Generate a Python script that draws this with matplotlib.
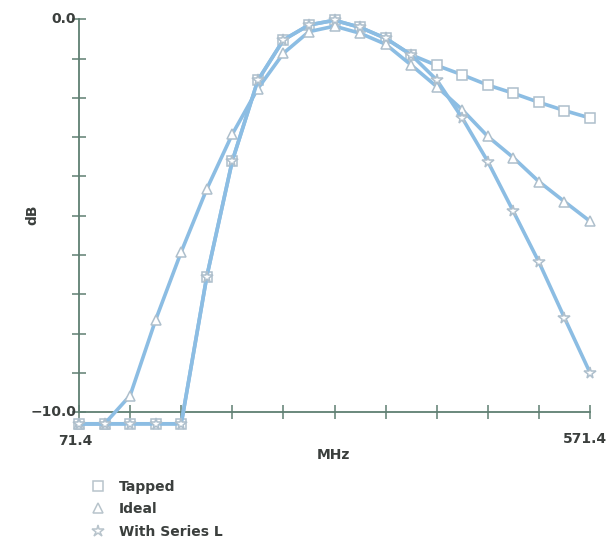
import numpy as np
import matplotlib
matplotlib.use("Agg")
import matplotlib.pyplot as plt
from matplotlib.lines import Line2D

plt.rcParams['font.family'] = ['Liberation Sans Narrow', 'DejaVu Sans']

# ── Data ──
freq_mhz = [71.4 + 25 * i for i in range(21)]
tapped = [-10.3, -10.3, -10.3, -10.3, -10.3, -6.55, -3.6, -1.55, -0.52, -0.14, -0.02,
          -0.2, -0.48, -0.9, -1.17, -1.41, -1.67, -1.88, -2.11, -2.32, -2.51]
ideal = [-10.3, -10.3, -9.58, -7.65, -5.92, -4.32, -2.92, -1.76, -0.86, -0.31, -0.17,
         -0.35, -0.63, -1.16, -1.71, -2.30, -2.98, -3.52, -4.13, -4.64, -5.14]
series_l = [-10.3, -10.3, -10.3, -10.3, -10.3, -6.55, -3.6, -1.55, -0.52, -0.14, -0.02,
            -0.2, -0.48, -0.9, -1.54, -2.51, -3.62, -4.89, -6.18, -7.6, -9.0]
series_names = ["Tapped", "Ideal", "With Series L"]
series_markers = ["s", "^", "*"]

line_col = "#8cbde3"
edge_col = "#aebfcc"
axis_col = "#5f7f72"
text_col = "#3b3f3d"

fig = plt.figure(figsize=(6.10, 5.43), dpi=100)
ax = fig.add_axes([0.1128, 0.2123, 0.8712, 0.7735])

for vals, mk in zip([tapped, ideal, series_l], series_markers):
    ms = 8.5 if mk == "*" else 6.5
    ax.plot(freq_mhz, vals, color=line_col, lw=2.6, marker=mk, ms=ms,
            mfc="white", mec=edge_col, mew=1.1, clip_on=False, zorder=3)

ax.set_xlim(61.4, 581.4)
ax.set_ylim(-10.4, 0.3)

for s in ["top", "right"]:
    ax.spines[s].set_visible(False)
ax.spines["left"].set_position(("data", 71.4))
ax.spines["left"].set_bounds(-10, 0)
ax.spines["bottom"].set_position(("data", -10))
ax.spines["bottom"].set_bounds(71.4, 571.4)
for s in ["left", "bottom"]:
    ax.spines[s].set_color(axis_col)
    ax.spines[s].set_linewidth(1.3)
    ax.spines[s].set_zorder(1)

ax.set_yticks(np.arange(-10, 0.5, 1))
ax.set_yticklabels([])
ax.set_xticks(np.arange(71.4, 572, 50))
ax.set_xticklabels([])
ax.tick_params(axis="both", direction="inout", length=10, width=1.1, color=axis_col)

# end labels
fs = 10
ax.text(68.5, 0, "0.0", ha="right", va="center", fontsize=fs, fontweight="bold", color=text_col)
ax.text(68.5, -10, "\u221210.0", ha="right", va="center", fontsize=fs, fontweight="bold", color=text_col)
fig.text(75 / 610, 1 - 441 / 543, "71.4", ha="center", va="center", fontsize=fs,
         fontweight="bold", color=text_col)
fig.text(607 / 610, 1 - 439 / 543, "571.4", ha="right", va="center", fontsize=fs,
         fontweight="bold", color=text_col)
fig.text(333 / 610, 1 - 455 / 543, "MHz", ha="center", va="center", fontsize=fs,
         fontweight="bold", color=text_col)
fig.text(32 / 610, 1 - 215 / 543, "dB", ha="center", va="center", rotation=90, fontsize=fs,
         fontweight="bold", color=text_col)

# legend
handles = []
for mk in series_markers:
    ms = 9 if mk == "*" else 7
    handles.append(Line2D([], [], ls="none", marker=mk, ms=ms, mfc="white",
                          mec="#b8c4cc", mew=1.1))
fig.legend(handles, series_names, loc="upper left", bbox_to_anchor=(84 / 610, 1 - 474 / 543),
           frameon=False, prop={"size": fs, "weight": "bold"}, labelcolor=text_col,
           handletextpad=0.9, labelspacing=0.62, handlelength=1.2, borderaxespad=0)

plt.savefig("out.png", dpi=100)
